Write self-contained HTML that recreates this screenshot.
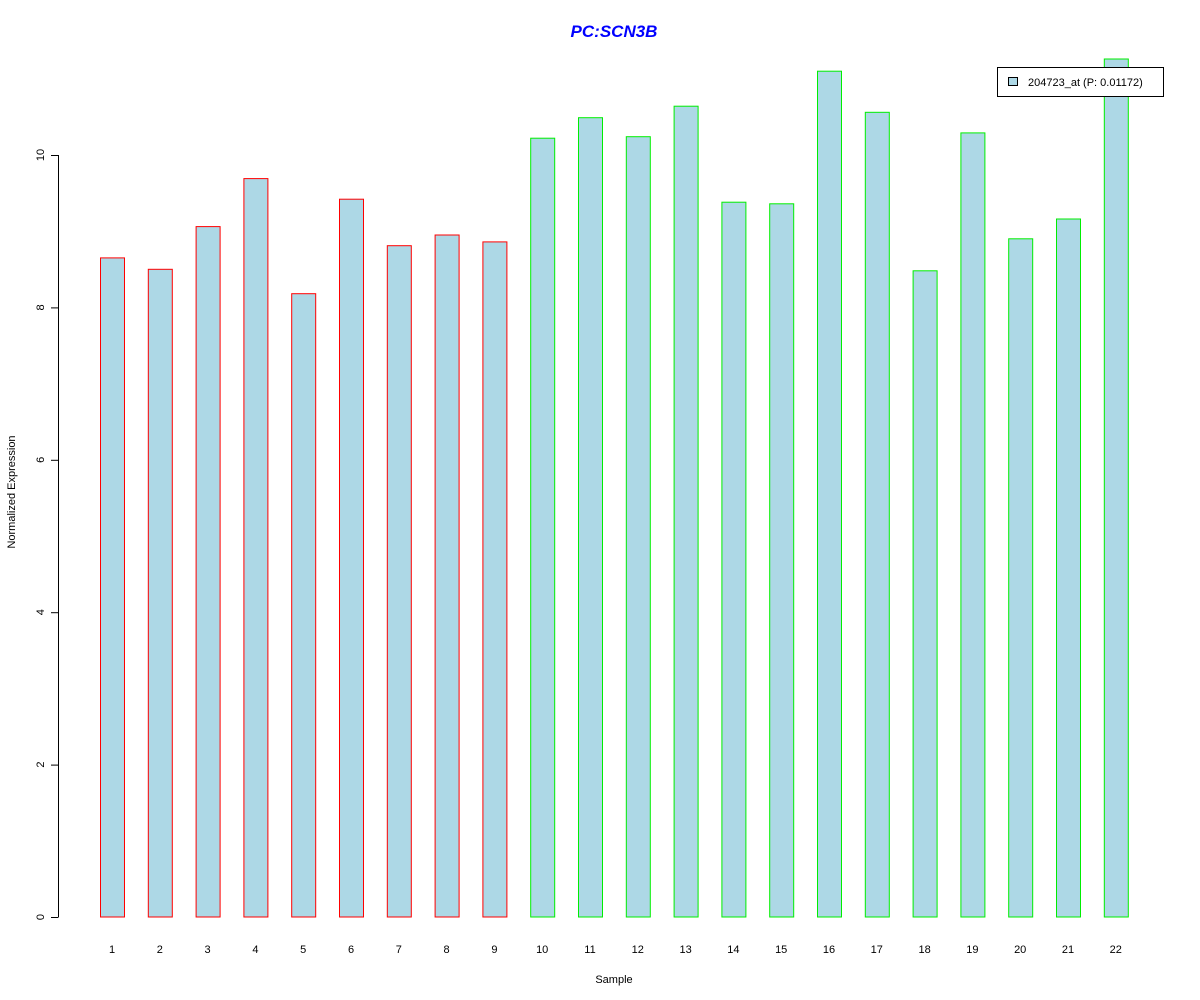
<!DOCTYPE html>
<html><head><meta charset="utf-8"><style>
body{margin:0;background:#fff;}
svg{display:block;font-family:"Liberation Sans",Arial,sans-serif;}
</style></head><body>
<svg id="chart" width="1200" height="1000">
<text x="614" y="37" text-anchor="middle" font-size="17" font-weight="bold" font-style="italic" fill="#0000ff">PC:SCN3B</text>
<g id="yaxis"></g>
<g id="bars"></g>
<g id="xlabels"></g>
<text x="614" y="983" text-anchor="middle" font-size="11">Sample</text>
<text transform="translate(15,492) rotate(-90)" text-anchor="middle" font-size="11">Normalized Expression</text>
<g>
<rect x="997.5" y="67.5" width="166" height="29" fill="#fff" stroke="#000"/>
<rect x="1008.5" y="77.5" width="9" height="8" fill="#add8e6" stroke="#000"/>
<text x="1028" y="86" font-size="11">204723_at (P: 0.01172)</text>
</g>
</svg>
<script>
const categories=["1","2","3","4","5","6","7","8","9","10","11","12","13","14","15","16","17","18","19","20","21","22"];
const values=[8.65,8.50,9.06,9.69,8.18,9.42,8.81,8.95,8.86,10.22,10.49,10.24,10.64,9.38,9.36,11.10,10.56,8.48,10.29,8.90,9.16,11.26];
const groups=["red","red","red","red","red","red","red","red","red","green","green","green","green","green","green","green","green","green","green","green","green","green"];
const yTicks=[0,2,4,6,8,10];
const NS="http://www.w3.org/2000/svg";
function y(v){return 917-v*76.2;}
function xc(i){return 112+i*47.8;}
const borderColors={red:"#ff0000",green:"#00ee00"};
const bars=document.getElementById("bars"),xl=document.getElementById("xlabels"),ya=document.getElementById("yaxis");
values.forEach((v,i)=>{
 const r=document.createElementNS(NS,"rect");
 r.setAttribute("x",(xc(i)-12+0.5).toFixed(1));r.setAttribute("y",y(v).toFixed(1));
 r.setAttribute("width",24);r.setAttribute("height",(y(0)-y(v)).toFixed(1));
 r.setAttribute("fill","#add8e6");r.setAttribute("stroke",borderColors[groups[i]]);
 
 
 bars.appendChild(r);
 const t=document.createElementNS(NS,"text");
 t.setAttribute("x",xc(i));t.setAttribute("y",953);t.setAttribute("text-anchor","middle");t.setAttribute("font-size","11");
 t.textContent=categories[i];
 
 
 xl.appendChild(t);
});
const ax=document.createElementNS(NS,"line");
ax.setAttribute("x1",58.5);ax.setAttribute("x2",58.5);ax.setAttribute("y1",y(0));ax.setAttribute("y2",y(10));ax.setAttribute("stroke","#000");


ya.appendChild(ax);
yTicks.forEach(v=>{
 const l=document.createElementNS(NS,"line");
 l.setAttribute("x1",51);l.setAttribute("x2",58.5);l.setAttribute("y1",y(v)+0.5);l.setAttribute("y2",y(v)+0.5);l.setAttribute("stroke","#000");
 
 
 ya.appendChild(l);
 const t=document.createElementNS(NS,"text");
 t.setAttribute("transform","translate(44,"+y(v)+") rotate(-90)");t.setAttribute("text-anchor","middle");t.setAttribute("font-size","11");
 t.textContent=v;
 
 
 ya.appendChild(t);
});
</script>
</body></html>
